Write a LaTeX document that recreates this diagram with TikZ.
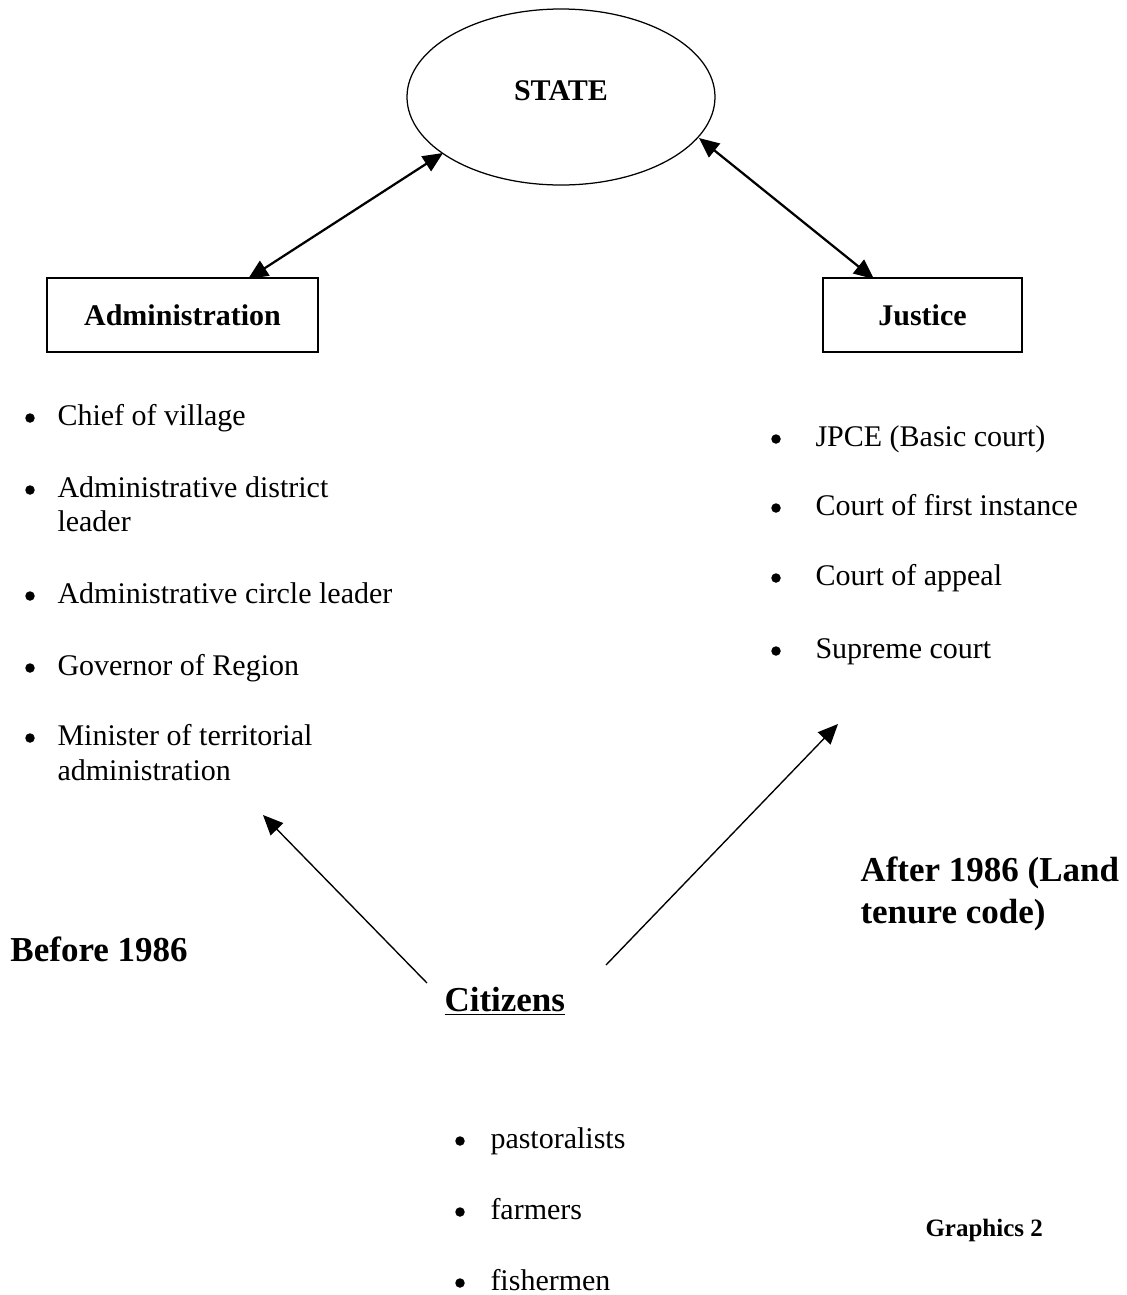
\documentclass[tikz,border=0pt]{standalone}
\usepackage{fontspec}
\setmainfont{Liberation Serif}
\usetikzlibrary{arrows.meta,shapes.geometric}
\begin{document}
\begin{tikzpicture}[x=0.4pt,y=-0.4pt,
  txt/.style={anchor=base west,inner sep=0pt,font=\fontsize{12}{13.8}\selectfont},
  head/.style={anchor=base west,inner sep=0pt,font=\fontsize{14}{16}\selectfont\bfseries},
  bul/.style={circle,fill=black,inner sep=0pt,minimum size=3.8pt},
  boxnode/.style={draw,line width=0.45pt,inner sep=0pt,font=\fontsize{12}{13.8}\selectfont\bfseries},
  dbl/.style={line width=0.9pt,{Triangle[length=8pt,width=7pt]}-{Triangle[length=8pt,width=7pt]}},
  sgl/.style={line width=0.55pt,-{Triangle[length=8pt,width=7pt]}}]
\useasboundingbox (0,0) rectangle (1127,1295);
% state
\node[draw,ellipse,line width=0.5pt,minimum width=308*0.4pt,minimum height=176*0.4pt,inner sep=0pt] (state) at (561,97) {};
\node[anchor=base,inner sep=0pt,font=\fontsize{12}{13.8}\selectfont\bfseries] (statet) at (561,100) {STATE};
% boxes
\node[boxnode,minimum width=271*0.4pt,minimum height=74*0.4pt] (admin) at (182.5,315) {Administration};
\node[boxnode,minimum width=199*0.4pt,minimum height=74*0.4pt] (justice) at (922.5,315) {Justice};
\coordinate (sl) at (443,153);
\coordinate (sr) at (699,138);
\coordinate (al) at (248,279);
\coordinate (jr) at (874,279);
\draw[dbl] (al) -- (sl);
\draw[dbl] (sr) -- (jr);
% left list
\node[bul] (b1) at (30,418) {};
\node[txt] (l1) at (57,425) {Chief of village};
\node[bul] (b2) at (30,490) {};
\node[txt] (l2) at (57,497) {Administrative district};
\node[txt] (l2b) at (57,531) {leader};
\node[bul] (b3) at (30,596) {};
\node[txt] (l3) at (57,603) {Administrative circle leader};
\node[bul] (b4) at (30,668) {};
\node[txt] (l4) at (57,675) {Governor of Region};
\node[bul] (b5) at (30,738) {};
\node[txt] (l5) at (57,745) {Minister of territorial};
\node[txt] (l5b) at (57,780) {administration};
% right list
\node[bul] (r1b) at (776,439) {};
\node[txt] (r1) at (815,446) {JPCE (Basic court)};
\node[bul] (r2b) at (776,508) {};
\node[txt] (r2) at (815,515) {Court of first instance};
\node[bul] (r3b) at (776,578) {};
\node[txt] (r3) at (815,585) {Court of appeal};
\node[bul] (r4b) at (776,651) {};
\node[txt] (r4) at (815,658) {Supreme court};
% headings
\node[head] (before) at (10,961) {Before 1986};
\node[head] (after1) at (860,881) {After 1986 (Land};
\node[head] (after2) at (860,923) {tenure code)};
\node[head] (cit) at (444,1011) {\underline{Citizens}};
% citizen arrows
\coordinate (c1) at (427,983);
\coordinate (c2) at (606,965);
\coordinate (t1) at (263,815);
\coordinate (t2) at (838,724);
\draw[sgl] (c1) -- (t1);
\draw[sgl] (c2) -- (t2);
% bottom list
\node[bul] (p1b) at (460,1141) {};
\node[txt] (p1) at (490,1148) {pastoralists};
\node[bul] (p2b) at (460,1212) {};
\node[txt] (p2) at (490,1219) {farmers};
\node[bul] (p3b) at (460,1283) {};
\node[txt] (p3) at (490,1290) {fishermen};
\node[anchor=base west,inner sep=0pt,font=\fontsize{10}{12}\selectfont\bfseries] (gr) at (925,1236) {Graphics 2};
\end{tikzpicture}
\end{document}
